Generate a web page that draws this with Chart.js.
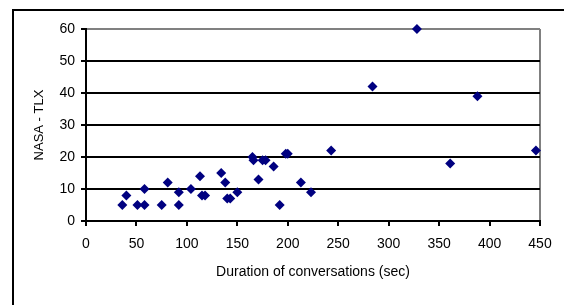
<!DOCTYPE html>
<html>
<head>
<meta charset="utf-8">
<script src="https://cdn.jsdelivr.net/npm/chart.js@4/dist/chart.umd.min.js"></script>
<style>
  html, body { margin: 0; padding: 0; background: #fff; }
  #wrap { position: relative; width: 564px; height: 305px; }
</style>
</head>
<body>
<div id="wrap"><canvas id="c" width="564" height="305"></canvas></div>
<script>
// Data
const durationSec = [36, 40, 51, 58, 58, 75, 81, 92, 92, 104, 113, 115, 118, 134, 138, 140, 143, 150, 165, 166, 171, 175, 178, 186, 192, 198, 200, 213, 223, 243, 284, 328, 361, 388, 446];
const nasaTlx     = [ 5,  8,  5,  5, 10,  5, 12,  9,  5,  10,  14,   8,   8,  15,  12,   7,   7,   9,  20,  19,  13,  19,  19,  17,   5,  21,  21,  12,   9,  22,  42,  60,  18,  39,  22];
const xTicks = [0, 50, 100, 150, 200, 250, 300, 350, 400, 450];
const yTicks = [0, 10, 20, 30, 40, 50, 60];
const xTitle = 'Duration of conversations (sec)';
const yTitle = 'NASA - TLX';

const points = durationSec.map((x, i) => ({ x: x, y: nasaTlx[i] }));

const frame = {
  id: 'frame',
  beforeDraw(chart) {
    const ctx = chart.ctx;
    ctx.save();
    ctx.fillStyle = '#fff';
    ctx.fillRect(0, 0, chart.width, chart.height);
    ctx.strokeStyle = '#000';
    ctx.lineWidth = 2;
    ctx.strokeRect(13, 10, 700, 500);
    ctx.restore();
  }
};

new Chart(document.getElementById('c'), {
  type: 'scatter',
  data: {
    datasets: [{
      data: points,
      pointStyle: 'rectRot',
      pointRadius: 5,
      pointHoverRadius: 5,
      backgroundColor: '#000080',
      borderColor: '#000080',
      borderWidth: 0,
      clip: false
    }]
  },
  options: {
    responsive: false,
    animation: false,
    events: [],
    layout: { padding: { left: 0, right: 24, top: 29, bottom: 0 } },
    plugins: { legend: { display: false }, tooltip: { enabled: false } },
    scales: {
      x: {
        type: 'linear',
        min: xTicks[0],
        max: xTicks[xTicks.length - 1],
        afterBuildTicks: s => { s.ticks = xTicks.map(v => ({ value: v })); },
        afterFit: s => { s.height = 84; },
        border: { display: true, color: '#000', width: 2 },
        grid: {
          drawOnChartArea: true,
          color: c => (c.tick && c.tick.value === 450) ? '#808080' : 'rgba(0,0,0,0)',
          lineWidth: 2,
          tickColor: '#000',
          tickLength: 5
        },
        ticks: {
          color: '#000',
          font: { family: 'Liberation Sans', size: 14 },
          padding: 10,
          maxRotation: 0,
          autoSkip: false
        },
        title: {
          display: true,
          text: xTitle,
          color: '#000',
          font: { family: 'Liberation Sans', size: 14 },
          padding: { top: 0, bottom: 24 }
        }
      },
      y: {
        type: 'linear',
        min: yTicks[0],
        max: yTicks[yTicks.length - 1],
        afterBuildTicks: s => { s.ticks = yTicks.map(v => ({ value: v })); },
        afterFit: s => { s.width = 86; },
        border: { display: true, color: '#000', width: 2 },
        grid: {
          drawOnChartArea: true,
          color: c => (c.tick && c.tick.value === 60) ? '#808080' : '#000',
          lineWidth: 2,
          tickColor: '#000',
          tickLength: 5
        },
        ticks: {
          color: '#000',
          font: { family: 'Liberation Sans', size: 14 },
          padding: 6
        },
        title: {
          display: true,
          text: yTitle,
          color: '#000',
          font: { family: 'Liberation Sans', size: 13 },
          padding: { top: 32, bottom: 0 }
        }
      }
    }
  },
  plugins: [frame]
});
</script>
</body>
</html>
